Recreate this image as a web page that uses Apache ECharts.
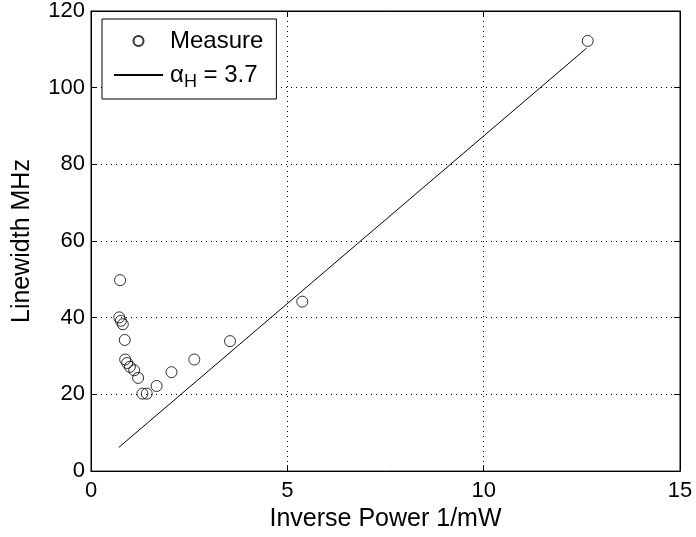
<!DOCTYPE html>
<html>
<head>
<meta charset="utf-8">
<script src="https://cdn.jsdelivr.net/npm/echarts@6/dist/echarts.min.js"></script>
<style>
html, body { margin: 0; padding: 0; background: #fff; }
#chart { width: 696px; height: 537px; }
</style>
</head>
<body>
<div id="chart"></div>
<script>
// measured points: inverse power (1/mW) vs linewidth (MHz)
var invPower = [0.74, 0.72, 0.76, 0.81, 0.86, 0.87, 0.92, 0.99, 1.10, 1.20, 1.31, 1.42, 1.67, 2.05, 2.63, 3.54, 5.38, 12.65];
var linewidth = [49.8, 40.1, 39.2, 38.3, 34.2, 29.1, 28.2, 27.2, 26.3, 24.3, 20.2, 20.2, 22.2, 25.8, 29.1, 33.9, 44.2, 112.2];
// fit line end points
var fitX = [0.71, 12.62];
var fitY = [6.2, 110.3];
var xTicks = [0, 5, 10, 15];
var yTicks = [0, 20, 40, 60, 80, 100, 120];

var FONT = '"Liberation Sans", Arial, Helvetica, sans-serif';

function pairs(xs, ys) {
    var out = [];
    for (var i = 0; i < xs.length; i++) {
        out.push([xs[i], ys[i]]);
    }
    return out;
}

var chart = echarts.init(document.getElementById('chart'), null, {renderer: 'canvas'});

var dotted = {color: '#000', width: 1, type: [1, 4]};

var option = {
    animation: false,
    backgroundColor: '#fff',
    grid: {
        left: 91, right: 16, top: 10, bottom: 64,
        show: true, borderColor: '#000', borderWidth: 1
    },
    legend: {
        orient: 'vertical',
        left: 102,
        top: 19,
        padding: [10, 13, 8, 11],
        itemWidth: 49,
        itemHeight: 10,
        itemGap: 10,
        backgroundColor: '#fff',
        borderColor: '#000',
        borderWidth: 1,
        borderRadius: 0,
        data: [
            {name: 'Measure'},
            {name: 'alpha', itemStyle: {color: 'rgba(0,0,0,0)', borderWidth: 0}}
        ],
        formatter: function (name) {
            if (name === 'alpha') {
                return '{a|α}{s|H}{a| = 3.7}';
            }
            return name;
        },
        textStyle: {
            fontFamily: FONT,
            fontSize: 24,
            color: '#000',
            padding: [0, 0, 0, 2],
            rich: {
                a: {fontFamily: FONT, fontSize: 24, color: '#000'},
                s: {fontFamily: FONT, fontSize: 18, color: '#000', padding: [14, 0, 0, 0]}
            }
        }
    },
    xAxis: [{
        type: 'value',
        min: 0, max: 15, interval: 5,
        name: 'Inverse Power 1/mW',
        nameLocation: 'middle',
        nameGap: 33,
        nameTextStyle: {fontFamily: FONT, fontSize: 25, color: '#000'},
        axisLine: {show: true, onZero: false, lineStyle: {color: '#000'}},
        axisTick: {show: true, inside: true, length: 6, lineStyle: {color: '#000'}},
        axisLabel: {fontFamily: FONT, fontSize: 22, color: '#000', margin: 9},
        splitLine: {show: true, lineStyle: dotted}
    }, {
        type: 'value',
        position: 'top',
        min: 0, max: 15, interval: 5,
        axisLine: {show: true, onZero: false, lineStyle: {color: '#000'}},
        axisTick: {show: true, inside: true, length: 6, lineStyle: {color: '#000'}},
        axisLabel: {show: false},
        splitLine: {show: false}
    }],
    yAxis: [{
        type: 'value',
        min: 0, max: 120, interval: 20,
        name: 'Linewidth MHz',
        nameLocation: 'middle',
        nameGap: 56,
        nameTextStyle: {fontFamily: FONT, fontSize: 25, color: '#000'},
        axisLine: {show: true, onZero: false, lineStyle: {color: '#000'}},
        axisTick: {show: true, inside: true, length: 6, lineStyle: {color: '#000'}},
        axisLabel: {fontFamily: FONT, fontSize: 22, color: '#000', margin: 6},
        splitLine: {show: true, lineStyle: dotted}
    }, {
        type: 'value',
        position: 'right',
        min: 0, max: 120, interval: 20,
        axisLine: {show: true, onZero: false, lineStyle: {color: '#000'}},
        axisTick: {show: true, inside: true, length: 6, lineStyle: {color: '#000'}},
        axisLabel: {show: false},
        splitLine: {show: false}
    }],
    series: [
        {
            name: 'Measure',
            type: 'scatter',
            symbol: 'circle',
            symbolSize: 11,
            itemStyle: {color: 'rgba(0,0,0,0)', borderColor: '#000', borderWidth: 1},
            data: pairs(invPower, linewidth)
        },
        {
            name: 'alpha',
            type: 'line',
            symbol: 'none',
            lineStyle: {color: '#000', width: 1},
            data: pairs(fitX, fitY)
        }
    ]
};

chart.setOption(option);
</script>
</body>
</html>
